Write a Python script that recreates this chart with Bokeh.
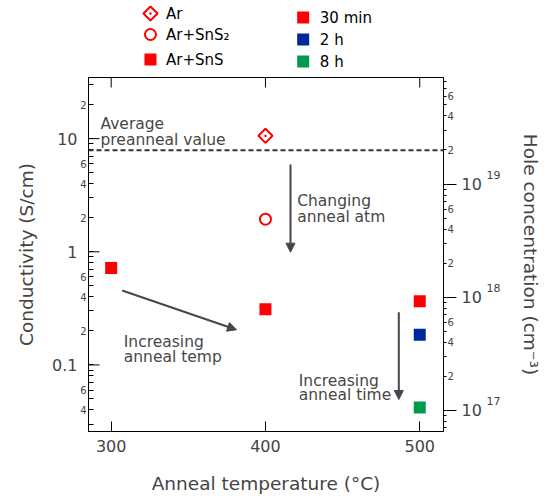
import numpy as np
from bokeh.plotting import figure
from bokeh.layouts import column
from bokeh.models import (Range1d, LogScale, LogAxis, FixedTicker, Span,
                          Label, Arrow, NormalHead)
from bokeh.core.properties import value
from bokeh.embed import file_html
from bokeh.resources import INLINE

# ---------------- data ----------------
ar_temp = [400]
ar_sigma = [10.6]
sns2_temp = [400]
sns2_sigma = [1.94]
sns_temp = [300, 400, 500]          # Ar+SnS, 30 min
sns_sigma = [0.72, 0.31, 0.365]
sns_2h_temp = [500]
sns_2h_sigma = [0.185]
sns_8h_temp = [500]
sns_8h_sigma = [0.042]
preanneal_avg = 7.9
hole_per_sigma = 2.52e18            # hole concentration per S/cm

x_ticks = [300, 400, 500]
left_major = [0.1, 1, 10]
left_major_labels = ["0.1", "1", "10"]
left_small = [0.04, 0.06, 0.2, 0.4, 0.6, 2, 4, 6, 20]
left_small_labels = ["4", "6", "2", "4", "6", "2", "4", "6", "2"]
left_other_minor = [0.03, 0.05, 0.07, 0.08, 0.09, 0.1, 0.3, 0.5, 0.7, 0.8, 0.9, 1,
                    3, 5, 7, 8, 9, 10, 30]
right_major = [1e17, 1e18, 1e19]
right_major_labels = ["10", "10", "10"]
right_major_sup = ["17", "18", "19"]
right_small = [2e17, 4e17, 6e17, 2e18, 4e18, 6e18, 2e19, 4e19, 6e19]
right_small_labels = ["2", "4", "6", "2", "4", "6", "2", "4", "6"]
right_other_minor = [7e16, 8e16, 9e16, 1e17, 3e17, 5e17, 7e17, 8e17, 9e17, 1e18,
                     3e18, 5e18, 7e18, 8e18, 9e18, 1e19, 3e19, 5e19, 7e19, 8e19]

RED = "#ff0000"
BLUE = "#00289a"
GREEN = "#009a4e"
GRAY = "#474747"
FONT = "DejaVu Sans"

# ---------------- geometry ----------------
LEG_H = 70
FL, FR, FT, FB = 88, 443, 77, 431      # frame edges in page pixels
X0, X1 = 285.3, 515.4
Y0, Y1 = 0.0258, 34.7
LY0, LY1 = np.log10(Y0), np.log10(Y1)
SUP_SHIFT = 10 ** (9 * (LY1 - LY0) / (FB - FT))   # 9 px upward on the log scale


def px2x(px):
    return X0 + (px - FL) / (FR - FL) * (X1 - X0)


def py2y(py):
    return 10 ** (LY0 + (FB - py) / (FB - FT) * (LY1 - LY0))


# ---------------- legend strip ----------------
leg = figure(width=554, height=LEG_H, x_range=Range1d(0, 554), y_range=Range1d(LEG_H, 0),
             output_backend="svg", toolbar_location=None, min_border=0,
             x_axis_location=None, y_axis_location=None, outline_line_color=None)
leg.grid.visible = False
leg.scatter([96.7], [13], marker="square_dot", angle=np.pi / 4, size=10,
            line_color=RED, fill_color=None, line_width=2)
leg.scatter([96.7], [34], marker="circle", size=11, line_color=RED, fill_color=None, line_width=2)
leg.scatter([96.7], [59], marker="square", size=12, fill_color=RED, line_color=None)
leg.scatter([335, 335, 335], [17, 39, 61], marker="square", size=12,
            fill_color=[RED, BLUE, GREEN], line_color=None)
leg.text(x=[121, 121, 121], y=[13, 34, 59], text=["Ar", "Ar+SnS₂", "Ar+SnS"],
         text_font=value(FONT), text_font_size="15px", text_baseline="middle", text_color="black")
leg.text(x=[361, 361, 361], y=[17, 39, 61], text=["30 min", "2 h", "8 h"],
         text_font=value(FONT), text_font_size="15px", text_baseline="middle", text_color="black")

# ---------------- main plot ----------------
p = figure(width=554, height=498 - LEG_H, x_range=Range1d(X0, X1), y_range=Range1d(Y0, Y1),
           y_axis_type="log", output_backend="svg", toolbar_location=None,
           min_border_left=FL, min_border_right=554 - FR, min_border_top=FT - LEG_H,
           min_border_bottom=498 - FB, outline_line_color="black")
p.grid.visible = False
N0, N1 = Y0 * hole_per_sigma, Y1 * hole_per_sigma
p.extra_y_ranges = {"n": Range1d(N0, N1), "nsup": Range1d(N0 / SUP_SHIFT, N1 / SUP_SHIFT)}
p.extra_y_scales = {"n": LogScale(), "nsup": LogScale()}

# left axis, inner: ticks and small 2/4/6 labels
ya = p.yaxis[0]
ya.ticker = FixedTicker(ticks=left_small, minor_ticks=left_other_minor)
ya.major_label_overrides = dict(zip(left_small, left_small_labels))
ya.major_tick_in, ya.major_tick_out = 5, 0
ya.minor_tick_in, ya.minor_tick_out = 5, 0
ya.major_label_standoff = 2
ya.major_label_text_font = FONT
ya.major_label_text_font_size = "10px"
ya.axis_line_color = "black"

# left axis, outer: decade labels and title
ya2 = LogAxis(ticker=FixedTicker(ticks=left_major, minor_ticks=[]),
              axis_line_color=None, major_tick_line_color=None, minor_tick_line_color=None,
              major_tick_in=0, major_tick_out=0, minor_tick_in=0, minor_tick_out=0,
              major_label_standoff=0, major_label_text_font=FONT, major_label_text_font_size="16px",
              axis_label="Conductivity (S/cm)", axis_label_text_font=FONT,
              axis_label_text_font_size="18.5px", axis_label_text_font_style="normal",
              axis_label_standoff=12)
ya2.major_label_overrides = dict(zip(left_major, left_major_labels))
p.add_layout(ya2, "left")

# bottom axis
xa = p.xaxis[0]
xa.ticker = FixedTicker(ticks=x_ticks, minor_ticks=[])
xa.major_tick_in, xa.major_tick_out = 10, 0
xa.minor_tick_line_color = None
xa.major_label_standoff = 8
xa.major_label_text_font = FONT
xa.major_label_text_font_size = "16px"
xa.axis_label = "Anneal temperature (°C)"
xa.axis_label_text_font = FONT
xa.axis_label_text_font_size = "18.5px"
xa.axis_label_text_font_style = "normal"
xa.axis_label_standoff = 18

# inward decade ticks on the left and tick marks along the top edge
p.segment(x0=[X0] * len(left_major), y0=left_major, x1=[px2x(FL + 11)] * len(left_major),
          y1=left_major, line_color="black", line_width=1)
p.segment(x0=x_ticks, y0=[Y1] * len(x_ticks), x1=x_ticks, y1=[py2y(FT + 10)] * len(x_ticks),
          line_color="black", line_width=1)

# right axes: hole concentration
ra1 = LogAxis(y_range_name="n", ticker=FixedTicker(ticks=right_small, minor_ticks=right_other_minor),
              major_tick_in=0, major_tick_out=3, minor_tick_in=0, minor_tick_out=3,
              major_label_standoff=1, major_label_text_font=FONT, major_label_text_font_size="10px")
ra1.major_label_overrides = dict(zip(right_small, right_small_labels))
p.add_layout(ra1, "right")

ra2 = LogAxis(y_range_name="n", ticker=FixedTicker(ticks=right_major, minor_ticks=[]),
              axis_line_color=None, major_tick_in=10, major_tick_out=0,
              minor_tick_line_color=None, minor_tick_in=0, minor_tick_out=0,
              major_label_standoff=5, major_label_text_font=FONT, major_label_text_font_size="16px")
ra2.major_label_overrides = dict(zip(right_major, right_major_labels))
p.add_layout(ra2, "right")

ra3 = LogAxis(y_range_name="nsup", ticker=FixedTicker(ticks=right_major, minor_ticks=[]),
              axis_line_color=None, major_tick_line_color=None, minor_tick_line_color=None,
              major_tick_in=0, major_tick_out=0, minor_tick_in=0, minor_tick_out=0,
              major_label_standoff=2, major_label_text_font=FONT, major_label_text_font_size="11px",
              axis_label="Hole concentration (cm⁻³)", axis_label_text_font=FONT,
              axis_label_text_font_size="18.5px", axis_label_text_font_style="normal",
              axis_label_standoff=17)
ra3.major_label_overrides = dict(zip(right_major, right_major_sup))
p.add_layout(ra3, "right")

# dashed preanneal line
p.add_layout(Span(location=preanneal_avg, dimension="width", line_color="#333333",
                  line_width=2, line_dash="5 3"))

# data
p.scatter(ar_temp, ar_sigma, marker="square_dot", angle=np.pi / 4, size=10,
          line_color=RED, fill_color=None, line_width=2)
p.scatter(sns2_temp, sns2_sigma, marker="circle", size=11, line_color=RED, fill_color=None, line_width=2)
p.scatter(sns_temp, sns_sigma, marker="square", size=12, fill_color=RED, line_color=None)
p.scatter(sns_2h_temp, sns_2h_sigma, marker="square", size=12, fill_color=BLUE, line_color=None)
p.scatter(sns_8h_temp, sns_8h_sigma, marker="square", size=12, fill_color=GREEN, line_color=None)

# annotation arrows
for (xs, ys, xe, ye) in [(290, 164, 290, 251.7), (121.7, 290, 236, 329.3), (398.3, 311.7, 398.3, 399)]:
    p.add_layout(Arrow(end=NormalHead(size=9, fill_color=GRAY, line_color=GRAY),
                       x_start=px2x(xs), y_start=py2y(ys), x_end=px2x(xe), y_end=py2y(ye),
                       line_color=GRAY, line_width=2))

# annotation texts
for (tx, ty, t) in [(100, 123, "Average"), (100, 139, "preanneal value"),
                    (296.7, 200.5, "Changing"), (296.7, 216, "anneal atm"),
                    (123.3, 341, "Increasing"), (123.3, 356.5, "anneal temp"),
                    (298.3, 380, "Increasing"), (298.3, 394.5, "anneal time")]:
    p.add_layout(Label(x=px2x(tx), y=py2y(ty), text=t, text_align="left", text_baseline="alphabetic",
                       text_font=FONT, text_font_size="15.5px", text_color=GRAY))

layout = column(leg, p, spacing=0)
open("out.html", "w").write(file_html(layout, INLINE))
